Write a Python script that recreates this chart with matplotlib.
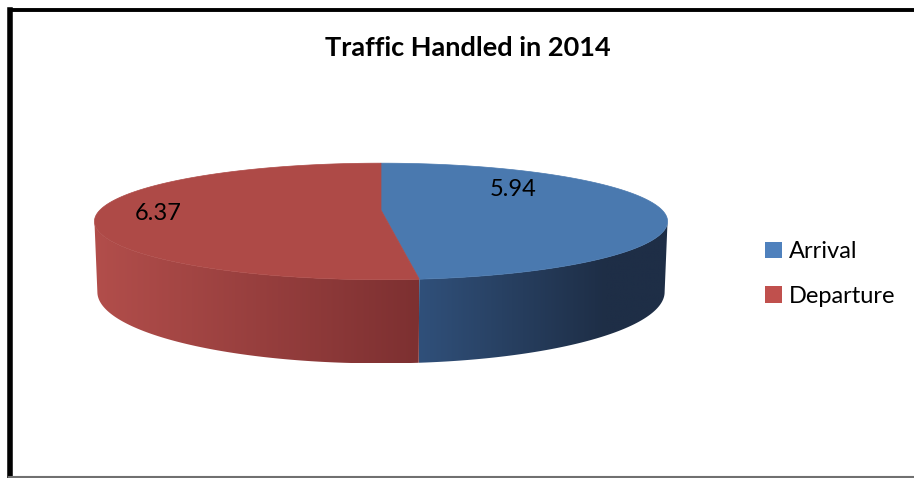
import numpy as np
import matplotlib
matplotlib.use('Agg')
import matplotlib.pyplot as plt
from matplotlib.patches import Polygon, Patch
from matplotlib.colors import to_rgb

# --- data ---
labels = ['Arrival', 'Departure']
values = [5.94, 6.37]
top_colors = ['#4a79af', '#ae4a47']
legend_colors = ['#4f81bd', '#c0504d']
# wall shading of each slice, light end -> dark end, and how far the ramp runs
side_colors = [('#30507a', '#1e2e46'), ('#b24e4b', '#7d3031')]
side_ramp = [0.75, 1.0]
label_pos = [(513, 190), (158, 214)]

plt.rcParams['font.family'] = ['Lato', 'DejaVu Sans']

# 3d pie: screen scale, centre, tilt, camera distance, thickness
S, cx, cy = 281, 381, 210
tilt = np.radians(11.5)
D, h = 5.0, 0.25


def pt(t, y=0.0):
    # rim point at angle t (deg) and height y, projected with perspective
    t = np.radians(t)
    X, Z = np.cos(t), -np.sin(t)
    yd = Z * np.sin(tilt) - y * np.cos(tilt)
    dep = Z * np.cos(tilt) + y * np.sin(tilt)
    k = D / (D - dep)
    return cx + S * X * k, cy + S * yd * k


# silhouette angles of the wall
grid = np.linspace(-180, 0, 3601)
xs = np.array([pt(t)[0] for t in grid])
t_left, t_right = grid[np.argmin(xs)], grid[np.argmax(xs)]


def front_part(lo, hi):
    out = []
    for k in (-360, 0, 360):
        a, b = max(lo, t_left + k), min(hi, t_right + k)
        if a < b:
            out.append((a - k, b - k))
    return out


fig = plt.figure(figsize=(9.14, 4.78), dpi=100)
ax = fig.add_axes([0, 0, 1, 1])

total = sum(values)
start = 90.0
wedges = []
for v, tc, (c0, c1), ramp in zip(values, top_colors, side_colors, side_ramp):
    sweep = 360.0 * v / total
    end = start - sweep
    wedges.append((end, start, tc))
    for a, b in front_part(end, start):
        ts = np.linspace(a, b, 200)
        top = [pt(t) for t in ts]
        bot = [pt(t, -h) for t in ts[::-1]]
        poly = Polygon(top + bot, closed=True, facecolor='none',
                       edgecolor='none')
        ax.add_patch(poly)
        px = [p[0] for p in top + bot]
        py = [p[1] for p in top + bot]
        x_lo, x_hi = min(px), max(px)
        f = np.clip(np.linspace(0, 1, 256) / ramp, 0, 1)[:, None]
        grad = (1 - f) * np.array(to_rgb(c0)) + f * np.array(to_rgb(c1))
        im = ax.imshow(grad[None, :, :], extent=(x_lo, x_hi, max(py), min(py)),
                       aspect='auto', interpolation='bilinear', zorder=2)
        im.set_clip_path(poly)
    start = end

# top face
for end, st, tc in wedges:
    ts = np.linspace(st, end, 300)
    poly = [(cx, cy)] + [pt(t) for t in ts]
    ax.add_patch(Polygon(poly, closed=True, facecolor=tc, edgecolor=tc,
                         linewidth=0.5, zorder=3))

for v, (lx, ly) in zip(values, label_pos):
    ax.text(lx, ly, f'{v:.2f}', ha='center', va='center', fontsize=17,
            color='black', zorder=4)

ax.set_xlim(0, 914)
ax.set_ylim(478, 0)
ax.axis('off')

fig.text(468 / 914, 1 - 48 / 478, 'Traffic Handled in 2014', ha='center',
         va='center', fontsize=19.5, fontweight='bold')

handles = [Patch(facecolor=c, edgecolor='none') for c in legend_colors]
fig.legend(handles, labels, loc='center left',
           bbox_to_anchor=(744 / 914, 1 - 274 / 478), frameon=False,
           fontsize=17, handlelength=0.7, handleheight=0.7,
           handletextpad=0.3, labelspacing=1.0)

# chart border
ax.plot([9.5, 9.5], [478, 9.5], color='black', linewidth=4, solid_capstyle='projecting')
ax.plot([9.5, 914], [9.5, 9.5], color='black', linewidth=2.8, solid_capstyle='projecting')
ax.plot([9, 914], [477, 477], color='#707070', linewidth=1.5)

fig.savefig('out.png', dpi=100)
